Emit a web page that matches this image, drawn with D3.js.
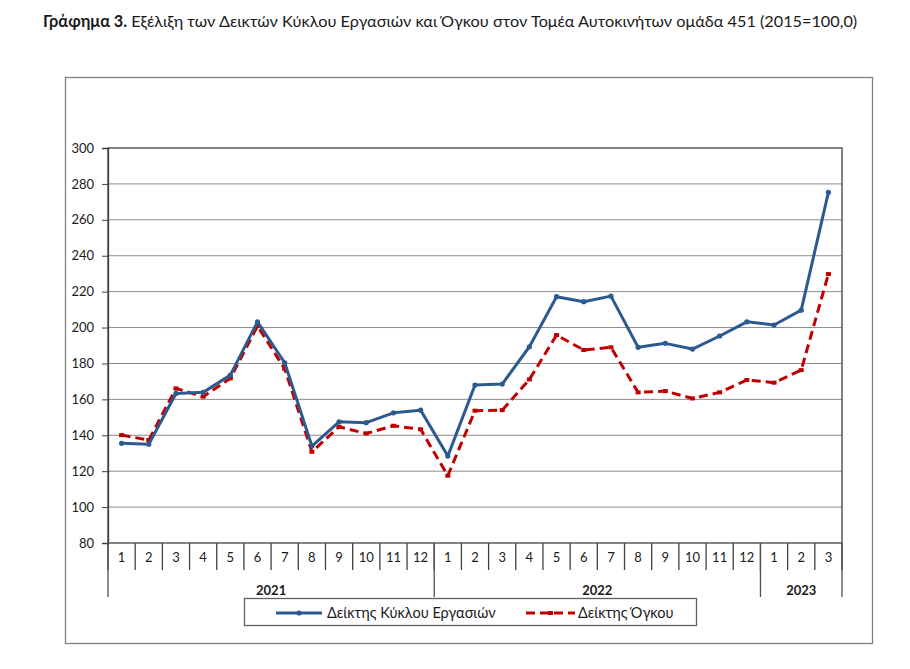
<!DOCTYPE html>
<html>
<head>
<meta charset="utf-8">
<script src="https://cdn.jsdelivr.net/npm/d3@7"></script>
<style>
  html, body { margin: 0; padding: 0; background: #fff; }
  svg { display: block; }
  text { font-family: Lato, "Open Sans", "Noto Sans", sans-serif; fill: #1a1a1a; }
</style>
</head>
<body>
<svg id="chart" width="910" height="669"></svg>
<script>
// ---- Data ----
const titleBold = "Γράφημα 3.";
const titleRest = " Εξέλιξη των Δεικτών Κύκλου Εργασιών και Όγκου στον Τομέα Αυτοκινήτων ομάδα 451 (2015=100,0)";
const months = ["1","2","3","4","5","6","7","8","9","10","11","12",
                "1","2","3","4","5","6","7","8","9","10","11","12",
                "1","2","3"];
const years = ["2021", "2022", "2023"];
const monthsPerYear = [12, 12, 3];
const seriesNames = ["Δείκτης Κύκλου Εργασιών", "Δείκτης Όγκου"];
const turnover = [135.5, 135, 163.3, 163.9, 173.5, 203.2, 180.4, 134, 147.5, 147, 152.5, 154,
                  128.4, 168, 168.5, 189.3, 217.2, 214.4, 217.5, 189, 191.2, 188, 195.3, 203.2,
                  201.4, 209.7, 275.3];
const volume = [140.1, 137.3, 166.1, 161.5, 171.7, 200.8, 177, 130.8, 144.7, 141, 145.3, 143.3,
                117.5, 153.7, 154, 171.1, 195.8, 187.5, 189, 163.9, 164.6, 160.5, 163.9, 170.8,
                169.3, 176.3, 229.8];
const yTicks = [80, 100, 120, 140, 160, 180, 200, 220, 240, 260, 280, 300];

// ---- Layout ----
const svg = d3.select("#chart");
const plot = { left: 108, right: 842, top: 148, bottom: 543 };
const blue = "#2c5a8f";
const red = "#c00000";
const axisFont = "13px";

// Title
const title = svg.append("text").attr("x", 43).attr("y", 27).style("font-size", "14px");
title.append("tspan").style("font-weight", "bold").text(titleBold);
title.append("tspan").text(titleRest);
{
  const w = title.node().getComputedTextLength();
  const target = 814;
  title.style("font-size", (14 * target / w).toFixed(2) + "px");
}

// Outer frame
svg.append("rect").attr("x", 65.5).attr("y", 77.5).attr("width", 807).attr("height", 566)
  .attr("fill", "none").attr("stroke", "#808080").attr("stroke-width", 1.3);

// Scales
const idx = d3.range(months.length);
const x = d3.scaleBand().domain(idx).range([plot.left, plot.right]).paddingInner(0).paddingOuter(0);
const y = d3.scaleLinear().domain([80, 300]).range([plot.bottom, plot.top]);
const cx = i => x(i) + x.bandwidth() / 2;

// Gridlines
svg.append("g").selectAll("line").data(yTicks.filter(t => t > 80 && t < 300)).join("line")
  .attr("x1", plot.left).attr("x2", plot.right)
  .attr("y1", d => y(d)).attr("y2", d => y(d))
  .attr("stroke", "#8c8c8c").attr("stroke-width", 1);

// Plot border
svg.append("rect").attr("x", plot.left).attr("y", plot.top)
  .attr("width", plot.right - plot.left).attr("height", plot.bottom - plot.top)
  .attr("fill", "none").attr("stroke", "#404040").attr("stroke-width", 1.3);

// Y axis
const yAxis = svg.append("g").attr("transform", `translate(${plot.left},0)`)
  .call(d3.axisLeft(y).tickValues(yTicks).tickSize(6).tickPadding(8).tickFormat(d3.format("d")));
yAxis.select(".domain").attr("stroke", "#404040").attr("stroke-width", 1.3);
yAxis.selectAll(".tick line").attr("stroke", "#404040");
yAxis.selectAll(".tick text").style("font-size", axisFont).style("font-family", "Lato, 'Open Sans', sans-serif").attr("fill", "#1a1a1a");

// X axis: month separators & labels
const xg = svg.append("g");
xg.selectAll("line.msep").data(d3.range(months.length + 1)).join("line")
  .attr("class", "msep")
  .attr("x1", i => i < months.length ? x(i) : plot.right)
  .attr("x2", i => i < months.length ? x(i) : plot.right)
  .attr("y1", plot.bottom).attr("y2", plot.bottom + 27)
  .attr("stroke", "#404040").attr("stroke-width", 1.3);
xg.selectAll("text.mlab").data(idx).join("text")
  .attr("class", "mlab")
  .attr("x", cx).attr("y", plot.bottom + 19)
  .attr("text-anchor", "middle").style("font-size", axisFont)
  .text(i => months[i]);

// Year separators & labels
const yearStarts = [0];
monthsPerYear.forEach((n, k) => yearStarts.push(yearStarts[k] + n));
xg.selectAll("line.ysep").data(yearStarts).join("line")
  .attr("class", "ysep")
  .attr("x1", s => s < months.length ? x(s) : plot.right)
  .attr("x2", s => s < months.length ? x(s) : plot.right)
  .attr("y1", plot.bottom).attr("y2", plot.bottom + 54)
  .attr("stroke", "#505050").attr("stroke-width", 1.3);
xg.selectAll("text.ylab").data(years).join("text")
  .attr("class", "ylab")
  .attr("x", (d, k) => {
    const a = x(yearStarts[k]);
    const b = yearStarts[k + 1] < months.length ? x(yearStarts[k + 1]) : plot.right;
    return (a + b) / 2;
  })
  .attr("y", plot.bottom + 52)
  .attr("text-anchor", "middle").style("font-size", axisFont).style("font-weight", "bold")
  .text(d => d);

// Lines
const line = d3.line().x((d, i) => cx(i)).y(d => y(d));
svg.append("path").datum(volume).attr("d", line)
  .attr("fill", "none").attr("stroke", red).attr("stroke-width", 3)
  .attr("stroke-dasharray", "9,5").attr("stroke-linejoin", "round");
svg.append("g").selectAll("rect").data(volume).join("rect")
  .attr("x", (d, i) => cx(i) - 2.5).attr("y", d => y(d) - 2).attr("width", 5).attr("height", 4)
  .attr("fill", red);

svg.append("path").datum(turnover).attr("d", line)
  .attr("fill", "none").attr("stroke", blue).attr("stroke-width", 3)
  .attr("stroke-linejoin", "round");
svg.append("g").selectAll("circle").data(turnover).join("circle")
  .attr("cx", (d, i) => cx(i)).attr("cy", d => y(d)).attr("r", 2.6)
  .attr("fill", blue);

// Legend
const lg = svg.append("g");
lg.append("rect").attr("x", 244.5).attr("y", 598.5).attr("width", 452).attr("height", 27)
  .attr("fill", "#fff").attr("stroke", "#606060").attr("stroke-width", 1.3);
const ly = 613;
lg.append("line").attr("x1", 276).attr("x2", 322).attr("y1", ly).attr("y2", ly)
  .attr("stroke", blue).attr("stroke-width", 3);
lg.append("circle").attr("cx", 299).attr("cy", ly).attr("r", 2.6).attr("fill", blue);
lg.append("text").attr("x", 327).attr("y", ly + 5).style("font-size", "14.5px").text(seriesNames[0]);
lg.append("line").attr("x1", 526).attr("x2", 575).attr("y1", ly).attr("y2", ly)
  .attr("stroke", red).attr("stroke-width", 3).attr("stroke-dasharray", "9,5");
lg.append("rect").attr("x", 548).attr("y", ly - 2).attr("width", 5).attr("height", 4).attr("fill", red);
lg.append("text").attr("x", 578).attr("y", ly + 5).style("font-size", "14.5px").text(seriesNames[1]);
</script>
</body>
</html>
